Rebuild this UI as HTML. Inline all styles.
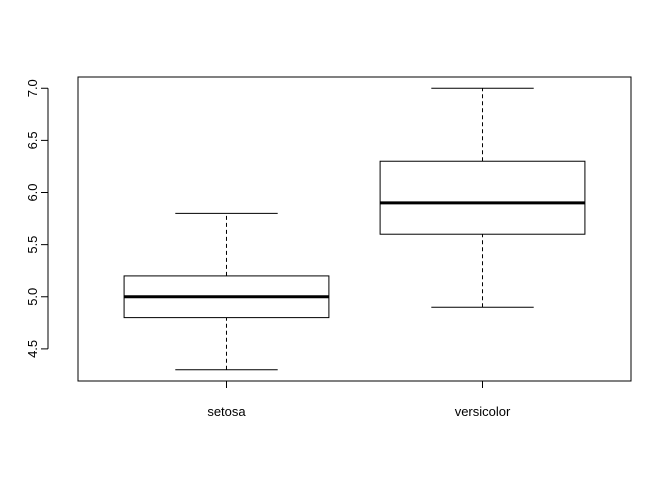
<!DOCTYPE html>
<html><head><meta charset="utf-8"><style>body{margin:0;background:#fff}svg{display:block}</style></head>
<body>
<svg id="chart" width="672" height="480" xmlns="http://www.w3.org/2000/svg" font-family="Liberation Sans, Arial, sans-serif" font-size="13"></svg>
<script>
const categories = ["setosa", "versicolor"];
const mins = [4.3, 4.9];
const q1s = [4.8, 5.6];
const medians = [5.0, 5.9];
const q3s = [5.2, 6.3];
const maxs = [5.8, 7.0];
const yTicks = ["4.5", "5.0", "5.5", "6.0", "6.5", "7.0"];

const NS = "http://www.w3.org/2000/svg";
const svg = document.getElementById("chart");
const L = 78, R = 631, T = 77, B = 381;
const ymin = 4.192, ymax = 7.108, xmin = 0.42, xmax = 2.58;
const y = v => B - (v - ymin) / (ymax - ymin) * (B - T);
const x = v => L + (v - xmin) / (xmax - xmin) * (R - L);
function mk(tag, attrs, text) {
  const e = document.createElementNS(NS, tag);
  for (const k in attrs) e.setAttribute(k, attrs[k]);
  if (text !== undefined) e.textContent = text;
  svg.appendChild(e);
  return e;
}
let e = mk("rect", {x: L, y: T, width: R - L, height: B - T, fill: "none", stroke: "#000"});



e = mk("line", {x1: 48, x2: 48, y1: y(4.5), y2: y(7.0), stroke: "#000"});


yTicks.forEach(t => {
  const v = parseFloat(t), yy = y(v);
  const tk = mk("line", {x1: 41, x2: 48, y1: yy, y2: yy, stroke: "#000"});
  
  
  const lb = mk("text", {x: 0, y: 0, transform: `translate(37,${yy}) rotate(-90)`, "text-anchor": "middle"}, t);
  
  
});

categories.forEach((c, i) => {
  const cx = x(i + 1), hw = x(0.4) - x(0), cw = hw / 2;
  const g = [];
  const w1 = mk("line", {x1: cx, x2: cx, y1: y(mins[i]), y2: y(q1s[i]), stroke: "#000", "stroke-dasharray": "4,3"});
  
  
  const w2 = mk("line", {x1: cx, x2: cx, y1: y(q3s[i]), y2: y(maxs[i]), stroke: "#000", "stroke-dasharray": "4,3"});
  
  
  const c1 = mk("line", {x1: cx - cw, x2: cx + cw, y1: y(mins[i]), y2: y(mins[i]), stroke: "#000"});
  
  
  const c2 = mk("line", {x1: cx - cw, x2: cx + cw, y1: y(maxs[i]), y2: y(maxs[i]), stroke: "#000"});
  
  
  const bx = mk("rect", {x: cx - hw, y: y(q3s[i]), width: 2 * hw, height: y(q1s[i]) - y(q3s[i]), fill: "none", stroke: "#000"});
  
  
  const md = mk("line", {x1: cx - hw, x2: cx + hw, y1: y(medians[i]), y2: y(medians[i]), stroke: "#000", "stroke-width": 3});
  
  
  const tk = mk("line", {x1: cx, x2: cx, y1: B, y2: B + 7, stroke: "#000"});
  
  
  const lb = mk("text", {x: cx, y: 416, "text-anchor": "middle"}, c);
  
  
});
</script>
</body></html>
